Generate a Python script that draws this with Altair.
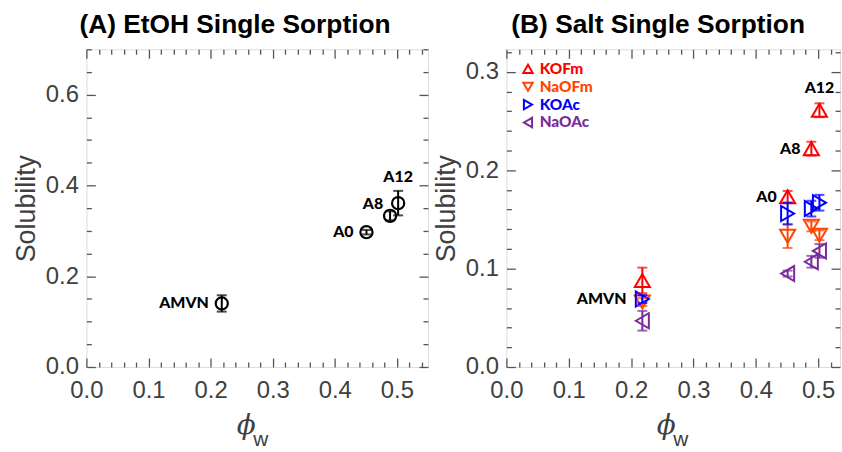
import altair as alt
import pandas as pd

# ---------------- data ----------------
polymers = ["AMVN", "A0", "A8", "A12"]
phi_w = [0.218, 0.451, 0.489, 0.502]

# (A) EtOH single sorption
etoh_sol = [0.140, 0.297, 0.333, 0.361]
etoh_err = [0.018, 0.005, 0.010, 0.027]

# (B) Salt single sorption
salts = ["KOFm", "NaOFm", "KOAc", "NaOAc"]
kofm_sol = [0.088, 0.173, 0.222, 0.261]
kofm_err = [0.013, 0.006, 0.007, 0.007]
naofm_sol = [0.066, 0.133, 0.143, 0.134]
naofm_err = [0.004, 0.012, 0.005, 0.005]
koac_sol = [0.069, 0.156, 0.161, 0.167]
koac_err = [0.004, 0.011, 0.008, 0.008]
naoac_sol = [0.047, 0.095, 0.107, 0.118]
naoac_err = [0.010, 0.003, 0.006, 0.007]

salt_colors = ["#ff0000", "#ff4500", "#0000ff", "#7a2b9a"]
salt_shapes = ["triangle-up", "triangle-down", "triangle-right", "triangle-left"]

# ---------------- tables ----------------
dfA = pd.DataFrame({"polymer": polymers, "phi": phi_w, "sol": etoh_sol, "err": etoh_err})
dfA["lo"] = dfA["sol"] - dfA["err"]
dfA["hi"] = dfA["sol"] + dfA["err"]

rows = []
for s, vals, errs in zip(salts, [kofm_sol, naofm_sol, koac_sol, naoac_sol],
                         [kofm_err, naofm_err, koac_err, naoac_err]):
    for p, x, v, e in zip(polymers, phi_w, vals, errs):
        rows.append({"salt": s, "polymer": p, "phi": x, "sol": v, "lo": v - e, "hi": v + e})
dfB = pd.DataFrame(rows)

labA = pd.DataFrame({"polymer": polymers, "phi": phi_w, "sol": etoh_sol})
labB = pd.DataFrame({"polymer": polymers, "phi": phi_w,
                     "sol": [koac_sol[0], kofm_sol[1], kofm_sol[2], kofm_sol[3]]})

# ---------------- styling ----------------
SANS = "Liberation Sans"
LBL = "Lato"
TICK = "#555555"
LABEL = "#404040"
MAJ = 9
MIN = 5


def frame_layers(df, xs, ys, xmaj, xmin, ymaj, ymin, ytitle):
    common = dict(domain=False, grid=False, tickColor=TICK, tickWidth=1.3, labelFlush=False)
    specs = [
        (alt.Axis(orient="bottom", values=xmaj, format=".1f", tickSize=MAJ, offset=-MAJ,
                  labelFontSize=24, labelFont=SANS, labelColor=LABEL, labelPadding=12,
                  title=None, **common),
         alt.Axis(orient="left", values=ymaj, format=".1f", tickSize=MAJ, offset=-MAJ,
                  labelFontSize=24, labelFont=SANS, labelColor=LABEL, labelPadding=8,
                  title=ytitle, titleFont=SANS, titleFontSize=27, titleFontWeight="normal",
                  titleColor=LABEL, titlePadding=5, **common)),
        (alt.Axis(orient="bottom", values=xmin, tickSize=MIN, offset=-MIN, labels=False,
                  title=None, **common),
         alt.Axis(orient="left", values=ymin, tickSize=MIN, offset=-MIN, labels=False,
                  title=None, **common)),
        (alt.Axis(orient="top", values=xmaj, tickSize=MAJ, offset=-MAJ, labels=False,
                  title=None, **common),
         alt.Axis(orient="right", values=ymaj, tickSize=MAJ, offset=-MAJ, labels=False,
                  title=None, **common)),
        (alt.Axis(orient="top", values=xmin, tickSize=MIN, offset=-MIN, labels=False,
                  title=None, **common),
         alt.Axis(orient="right", values=ymin, tickSize=MIN, offset=-MIN, labels=False,
                  title=None, **common)),
    ]
    out = []
    for xa, ya in specs:
        out.append(alt.Chart(df).mark_point(opacity=0).encode(
            x=alt.X("phi:Q", scale=xs, axis=xa),
            y=alt.Y("sol:Q", scale=ys, axis=ya)))
    return out


def phi_title():
    phi = alt.Chart(pd.DataFrame({"t": ["ϕ"]})).mark_text(
        font="DejaVu Serif", fontStyle="italic", fontSize=28, color=LABEL,
        align="center", baseline="alphabetic").encode(
        text="t:N", x=alt.value(161), y=alt.value(387))
    w = alt.Chart(pd.DataFrame({"t": ["w"]})).mark_text(
        font=SANS, fontSize=21, color=LABEL, align="left", baseline="alphabetic").encode(
        text="t:N", x=alt.value(168), y=alt.value(400))
    return [phi, w]


def title(text, dx):
    return alt.TitleParams(text, anchor="start", frame="group", dx=dx, fontSize=26.5,
                           font=SANS, fontWeight="bold", color="black", offset=10)


def errbars(df, xs, ys, color):
    rule = alt.Chart(df).mark_rule(color=color, strokeWidth=2).encode(
        x=alt.X("phi:Q", scale=xs, axis=None), y=alt.Y("lo:Q", scale=ys, axis=None), y2="hi:Q")
    cap1 = alt.Chart(df).mark_tick(orient="horizontal", size=10, thickness=2, color=color).encode(
        x=alt.X("phi:Q", scale=xs, axis=None), y=alt.Y("lo:Q", scale=ys, axis=None))
    cap2 = alt.Chart(df).mark_tick(orient="horizontal", size=10, thickness=2, color=color).encode(
        x=alt.X("phi:Q", scale=xs, axis=None), y=alt.Y("hi:Q", scale=ys, axis=None))
    return [rule, cap1, cap2]


xmaj = [0.0, 0.1, 0.2, 0.3, 0.4, 0.5]
xmin = [round(0.02 * i, 2) for i in range(28) if i % 5 != 0]

# ---------------- panel A ----------------
xsA = alt.Scale(domain=[0, 0.55], nice=False, zero=False)
ysA = alt.Scale(domain=[0, 0.7], nice=False, zero=False)
yAmaj = [0.0, 0.2, 0.4, 0.6]
yAmin = [round(0.05 * i, 2) for i in range(15) if i % 4 != 0]

ptsA = alt.Chart(dfA).mark_point(shape="circle", filled=False, size=150, strokeWidth=2.2,
                                 color="black", opacity=1).encode(
    x=alt.X("phi:Q", scale=xsA, axis=None), y=alt.Y("sol:Q", scale=ysA, axis=None))


def labels(df, xs, ys, names, **kw):
    return alt.Chart(df).transform_filter(
        alt.FieldOneOfPredicate(field="polymer", oneOf=names)).mark_text(
        font=LBL, fontWeight=900, fontSize=16, color="black", baseline="middle", **kw).encode(
        x=alt.X("phi:Q", scale=xs, axis=None), y=alt.Y("sol:Q", scale=ys, axis=None),
        text="polymer:N")


lA1 = labels(labA, xsA, ysA, ["AMVN", "A0"], align="right", dx=-13)
lA2 = labels(labA, xsA, ysA, ["A8"], align="right", dx=-7, dy=-12)
lA3 = labels(labA, xsA, ysA, ["A12"], align="center", dy=-26)

panelA = alt.layer(
    *frame_layers(dfA, xsA, ysA, xmaj, xmin, yAmaj, yAmin, "Solubility"),
    *errbars(dfA, xsA, ysA, "black"), ptsA, lA1, lA2, lA3, *phi_title()
).resolve_axis(x="independent", y="independent").properties(
    width=344, height=320, title=title("(A) EtOH Single Sorption", -7))

# ---------------- panel B ----------------
xsB = alt.Scale(domain=[0, 0.535], nice=False, zero=False)
ysB = alt.Scale(domain=[0, 0.323], nice=False, zero=False)
yBmaj = [0.0, 0.1, 0.2, 0.3]
yBmin = [round(0.02 * i, 2) for i in range(17) if i % 5 != 0]

cs = alt.Scale(domain=salts, range=salt_colors)
ss = alt.Scale(domain=salts, range=salt_shapes)
color_expr = " : ".join(
    f"datum.value == '{s}' ? '{c}'" for s, c in zip(salts[:-1], salt_colors[:-1])
) + f" : '{salt_colors[-1]}'"
leg = alt.Legend(title=None, orient="none", legendX=14, legendY=12, padding=0,
                 labelFont=LBL, labelFontWeight=900, labelFontSize=15.5,
                 labelColor=alt.ExprRef(color_expr), symbolSize=90, symbolStrokeWidth=2,
                 symbolFillColor="transparent", rowPadding=0, labelOffset=4)

ptsB = alt.Chart(dfB).mark_point(filled=False, size=230, strokeWidth=2, opacity=1).encode(
    x=alt.X("phi:Q", scale=xsB, axis=None), y=alt.Y("sol:Q", scale=ysB, axis=None),
    color=alt.Color("salt:N", scale=cs, legend=leg),
    shape=alt.Shape("salt:N", scale=ss, legend=leg))

barsB = []
for s, c in zip(salts, salt_colors):
    barsB += errbars(dfB[dfB["salt"] == s], xsB, ysB, c)

lB1 = labels(labB, xsB, ysB, ["AMVN"], align="right", dx=-16)
lB2 = labels(labB, xsB, ysB, ["A0", "A8"], align="right", dx=-11)
lB3 = labels(labB, xsB, ysB, ["A12"], align="center", dy=-22)

panelB = alt.layer(
    ptsB, *frame_layers(dfB, xsB, ysB, xmaj, xmin, yBmaj, yBmin, "Solubility"),
    *barsB, lB1, lB2, lB3, *phi_title()
).resolve_axis(x="independent", y="independent").properties(
    width=336, height=320, title=title("(B) Salt Single Sorption", 5))

chart = alt.hconcat(panelA, panelB, spacing=2).resolve_scale(
    color="independent", shape="independent"
).resolve_legend(color="independent", shape="independent").properties(
    padding={"left": 12, "top": 10, "right": 0, "bottom": 0}
).configure_view(stroke=TICK, strokeWidth=1.3).configure(background="white")

chart.save("out.html", embed_options={"renderer": "svg", "actions": False})
